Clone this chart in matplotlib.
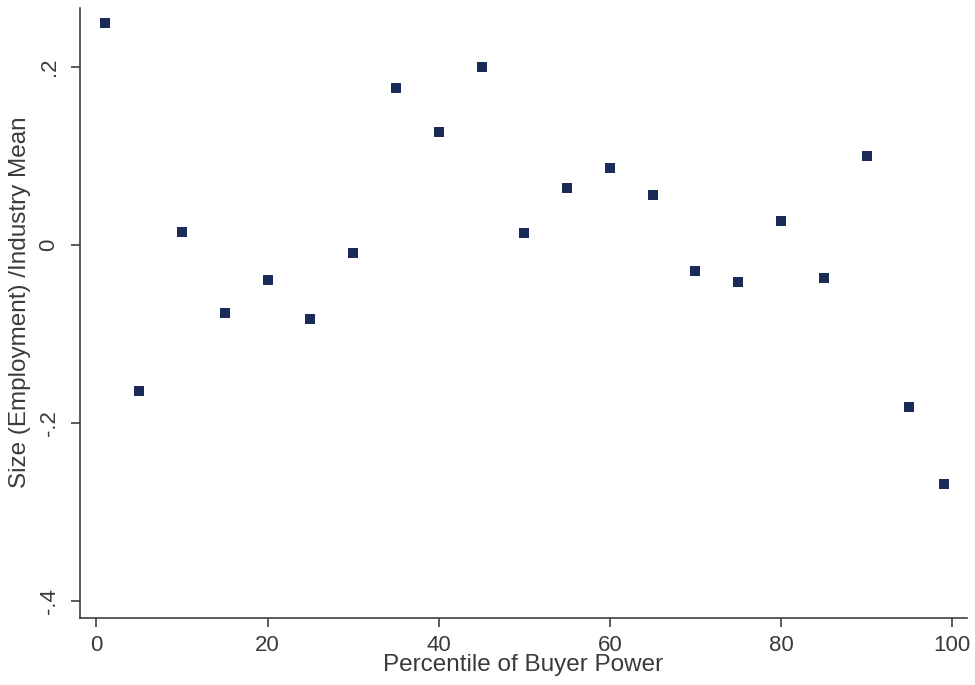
import matplotlib
matplotlib.use("Agg")
import matplotlib.pyplot as plt

percentile = [1, 5, 10, 15, 20, 25, 30, 35, 40, 45, 50, 55, 60, 65, 70, 75, 80, 85, 90, 95, 99]
size_rel = [0.250, -0.164, 0.0146, -0.0765, -0.039, -0.083, -0.009, 0.1766, 0.127, 0.200,
            0.0135, 0.064, 0.0866, 0.056, -0.029, -0.0416, 0.027, -0.037, 0.100, -0.182, -0.269]
x_ticks = [0, 20, 40, 60, 80, 100]
y_ticks = [-0.4, -0.2, 0, 0.2]
y_ticklabels = ["-.4", "-.2", "0", ".2"]

plt.rcParams['font.family'] = ['Liberation Sans', 'DejaVu Sans']
txt = '#3a3a3a'
fig = plt.figure(figsize=(9.75, 6.85), dpi=100)
ax = fig.add_axes([0.0817, 0.0978, 0.9098, 0.8901])
ax.scatter(percentile, size_rel, marker='s', s=44, color='#1a2b58', linewidths=0, zorder=3)

ax.set_xlim(-1.96, 101.7)
ax.set_ylim(-0.4196, 0.266)
ax.set_xticks(x_ticks)
ax.set_xticklabels([str(t) for t in x_ticks])
ax.set_yticks(y_ticks)
ax.set_yticklabels(y_ticklabels, rotation=90, va='center')

for s in ['top', 'right']:
    ax.spines[s].set_visible(False)
for s in ['left', 'bottom']:
    ax.spines[s].set_color('#404040')
    ax.spines[s].set_linewidth(1.2)
ax.tick_params(axis='both', length=6.5, width=1.2, color='#404040', labelsize=16, labelcolor=txt)
ax.tick_params(axis='x', pad=6)
ax.tick_params(axis='y', pad=8)
ax.set_xlabel('Percentile of Buyer Power', fontsize=17.5, color=txt)
ax.set_ylabel('Size (Employment) /Industry Mean', fontsize=17.5, color=txt)
ax.xaxis.set_label_coords(0.5, -0.059)
ax.yaxis.set_label_coords(-0.055, 0.518)

fig.savefig('out.png', dpi=100)
